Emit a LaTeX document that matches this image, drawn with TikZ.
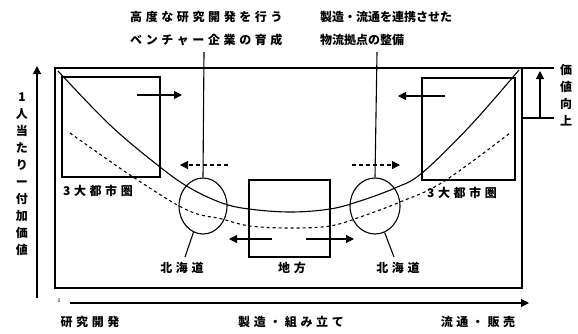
\documentclass[tikz,border=0pt]{standalone}
\usepackage{fontspec}
\newfontfamily\jp{Noto Sans CJK JP}
\newfontfamily\jpsp[LetterSpace=30]{Noto Sans CJK JP}
\usetikzlibrary{arrows.meta,shapes.geometric}
\tikzset{
  base/.style={line width=1.1pt},
  lbl/.style={font=\jpsp\bfseries\fontsize{12}{14}\selectfont, inner sep=0pt},
  toplbl/.style={font=\jpsp\bfseries\fontsize{12}{23}\selectfont, inner sep=0pt, align=left, anchor=north west},
  vlbl/.style={font=\jp\bfseries\fontsize{12}{17}\selectfont, inner sep=0pt, align=center},
  arr/.style={base, -{Triangle[length=8pt,width=8pt]}},
  darr/.style={arr, dash pattern=on 4pt off 3pt},
  boxn/.style={draw, base, rectangle, inner sep=0pt},
  circn/.style={draw, base, ellipse, inner sep=0pt, minimum width=48pt, minimum height=56pt},
}
\begin{document}
\begin{tikzpicture}[x=1pt,y=-1pt]
\useasboundingbox (0,0) rectangle (578,333);
% frame
\node[boxn, minimum width=467pt, minimum height=220pt] (frame) at (288.5,178) {};
\coordinate (tr) at (522,68);
\coordinate (trx) at (554,68);
\coordinate (mr) at (522,118);
\coordinate (mrx) at (554,118);
\draw[base] (tr) -- (trx);
\draw[base] (mr) -- (mrx);
\coordinate (ub) at (540,118);
\coordinate (ut) at (540,71);
\draw[arr] (ub) -- (ut);
\node[vlbl] (gain) at (566,95) {価\\値\\向\\上};
% axes
\coordinate (vy0) at (37,298);
\coordinate (vy1) at (37,66);
\draw[arr] (vy0) -- (vy1);
\node[vlbl] (ylab) at (22,174) {1\\人\\当\\た\\り\\ー\\付\\加\\価\\値};
\coordinate (hx0) at (70,303);
\coordinate (hx1) at (529,303);
\draw[arr] (hx0) -- (hx1);
\node[font=\jp\fontsize{5}{5}\selectfont, inner sep=0pt] (orig) at (59,301) {0};
\node[lbl] (xl1) at (90,322) {研究開発};
\node[lbl] (xl2) at (291,322) {製造・組み立て};
\node[lbl] (xl3) at (478,322) {流通・販売};
% boxes
\node[boxn, minimum width=98pt, minimum height=100pt] (lbox) at (111,127) {};
\node[boxn, minimum width=93pt, minimum height=102pt] (rbox) at (468.5,129) {};
\node[boxn, minimum width=81pt, minimum height=77pt] (cbox) at (289.5,218.5) {};
\node[lbl] (lboxl) at (98,191) {3大都市圏};
\node[lbl] (rboxl) at (462,193) {3大都市圏};
\node[lbl] (cboxl) at (292,268) {地方};
% circles
\node[circn] (lc) at (203,206) {};
\node[circn, minimum width=50pt] (rc) at (375,206) {};
\node[lbl] (lcl) at (182,268) {北海道};
\node[lbl] (rcl) at (398,268) {北海道};
\coordinate (lcl0) at (185,257);
\coordinate (rcl0) at (394,257);
\draw[base] (lc.-110) -- (lcl0);
\draw[base] (rc.-70) -- (rcl0);
% top labels
\node[toplbl] (tl) at (130,11) {高度な研究開発を行う\\ベンチャー企業の育成};
\node[toplbl, font=\jp\bfseries\fontsize{12}{23}\selectfont] (trl) at (320,11) {製造・流通を連携させた\\物流拠点の整備};
\coordinate (tl0) at (204,52);
\coordinate (tr0) at (377,52);
\draw[base] (tl0) -- (lc.north);
\draw[base] (tr0) -- (rc.north);
% arrows
\coordinate (a1s) at (137,95); \coordinate (a1e) at (182,95);
\draw[arr] (a1s) -- (a1e);
\coordinate (a2s) at (445,96); \coordinate (a2e) at (398,96);
\draw[arr] (a2s) -- (a2e);
\coordinate (d1s) at (228,165); \coordinate (d1e) at (180,165);
\draw[darr] (d1s) -- (d1e);
\coordinate (d2s) at (352,165); \coordinate (d2e) at (400,165);
\draw[darr] (d2s) -- (d2e);
\coordinate (c1s) at (272,239); \coordinate (c1e) at (229,239);
\draw[arr] (c1s) -- (c1e);
\coordinate (c2s) at (306,239); \coordinate (c2e) at (354,239);
\draw[arr] (c2s) -- (c2e);
% curves
\draw[base] plot[smooth, tension=0.6] coordinates {(58,71) (110,125) (160,167) (190,188) (222,203) (249,209) (290,212) (330,209) (360,201) (395,188) (422,173) (470,126) (519,70)};
\draw[base, dash pattern=on 3pt off 3pt] plot[smooth, tension=0.6] coordinates {(70,133) (133,177) (187,210) (222,219) (250,226) (290,228) (330,226) (363,216) (400,202) (443,182) (510,133)};
\end{tikzpicture}
\end{document}
